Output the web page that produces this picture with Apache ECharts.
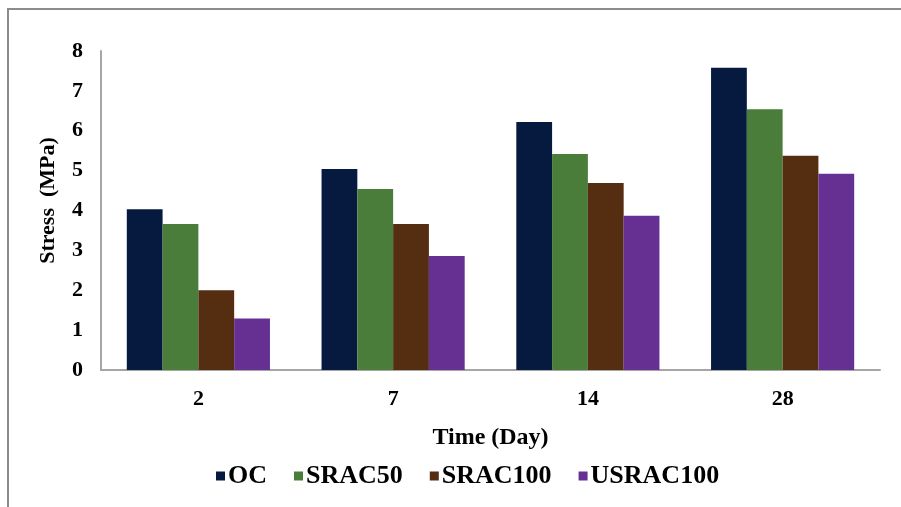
<!DOCTYPE html>
<html>
<head>
<meta charset="utf-8">
<script src="https://cdn.jsdelivr.net/npm/echarts@6/dist/echarts.min.js"></script>
<style>
  html, body { margin: 0; padding: 0; background: #ffffff; }
  #frame { position: absolute; left: 7px; top: 8px; width: 1000px; height: 600px;
           border-left: 2px solid #8c8c8c; border-top: 2px solid #8c8c8c; box-sizing: border-box; }
  #chart { position: absolute; left: 0; top: 0; width: 901px; height: 507px; }
</style>
</head>
<body>
<div id="frame"></div>
<div id="chart"></div>
<script>
// Compressive stress by curing age for each concrete mix
const days = ['2', '7', '14', '28'];
const seriesNames = ['OC', 'SRAC50', 'SRAC100', 'USRAC100'];
const ocValues = [4.03, 5.04, 6.22, 7.58];
const srac50Values = [3.66, 4.54, 5.42, 6.54];
const srac100Values = [2.00, 3.66, 4.69, 5.37];
const usrac100Values = [1.29, 2.86, 3.87, 4.92];
const barColors = ['#061a40', '#4a7d39', '#552d10', '#663092'];

const valueSets = [ocValues, srac50Values, srac100Values, usrac100Values];
const font = 'Liberation Serif, Times New Roman, serif';

const chart = echarts.init(document.getElementById('chart'));
chart.setOption({
  animation: false,
  backgroundColor: 'transparent',
  textStyle: { fontFamily: font },
  grid: { left: 101, right: 21, top: 51, bottom: 137 },
  legend: {
    data: seriesNames,
    bottom: 13,
    left: 211,
    itemWidth: 9,
    itemHeight: 9,
    itemGap: 27,
    icon: 'rect',
    textStyle: { fontFamily: font, fontWeight: 'bold', fontSize: 26, color: '#000', padding: [0, 0, 0, -2] }
  },
  xAxis: {
    type: 'category',
    data: days,
    name: 'Time (Day)',
    nameLocation: 'middle',
    nameGap: 56,
    nameTextStyle: { fontFamily: font, fontWeight: 'bold', fontSize: 24, color: '#000' },
    axisLine: { lineStyle: { color: '#a6a6a6', width: 2 } },
    axisTick: { show: false },
    axisLabel: { fontFamily: font, fontWeight: 'bold', fontSize: 22, color: '#000', margin: 18 }
  },
  yAxis: {
    type: 'value',
    min: 0,
    max: 8,
    interval: 1,
    name: 'Stress  (MPa)',
    nameLocation: 'middle',
    nameGap: 42,
    nameTextStyle: { fontFamily: font, fontWeight: 'bold', fontSize: 22, color: '#000', padding: [0, 0, 0, 20] },
    axisLine: { show: true, lineStyle: { color: '#a6a6a6', width: 2 } },
    axisTick: { show: false },
    splitLine: { show: false },
    axisLabel: { fontFamily: font, fontWeight: 'bold', fontSize: 22, color: '#000', margin: 18 }
  },
  series: seriesNames.map((name, i) => ({
    name: name,
    type: 'bar',
    data: valueSets[i],
    barGap: '0%',
    barCategoryGap: '26.5%',
    itemStyle: { color: barColors[i] }
  }))
});
</script>
</body>
</html>
